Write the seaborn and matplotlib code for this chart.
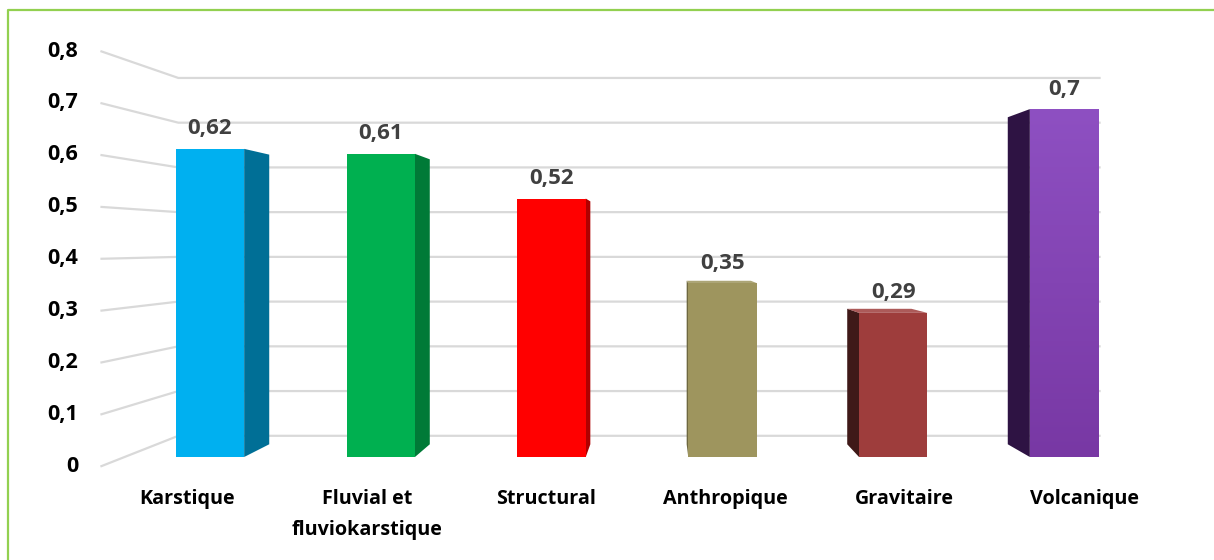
import matplotlib
matplotlib.use("Agg")
import matplotlib.pyplot as plt
import matplotlib.transforms as mtransforms
from matplotlib.patches import Polygon
from matplotlib.lines import Line2D
import numpy as np
import seaborn as sns

# --- data -------------------------------------------------------------
categories = ["Karstique", "Fluvial et\nfluviokarstique", "Structural",
              "Anthropique", "Gravitaire", "Volcanique"]
values = [0.62, 0.61, 0.52, 0.35, 0.29, 0.70]
tick_values = [0.0, 0.1, 0.2, 0.3, 0.4, 0.5, 0.6, 0.7, 0.8]
tick_labels = ["0", "0,1", "0,2", "0,3", "0,4", "0,5", "0,6", "0,7", "0,8"]

# --- styling ----------------------------------------------------------
front_colors = ["#00B0F0", "#00B050", "#FF0000", "#9E955E", "#9E3D3C", "#8A4DBE"]
side_colors = ["#006F96", "#007A37", "#B00000", "#6E6840", "#3F1918", "#2E1343"]
grid_color = "#D9D9D9"
label_color = "#404040"
border_color = "#92D050"

W, H, DPI = 1214, 560, 100

sns.set_theme(style="white")
plt.rcParams["font.family"] = ["Open Sans", "DejaVu Sans"]
plt.rcParams["font.weight"] = "bold"

fig = plt.figure(figsize=(W / DPI, H / DPI), dpi=DPI)
ax = fig.add_axes([0, 0, 1, 1])

# pixel layout of the front plane of the bars
X0_PX, PX_PER_CAT = 210.0, 170.8
Y0_PX, PX_PER_UNIT = 457.0, 497.0


def px_to_data(px, py):
    return (px - X0_PX) / PX_PER_CAT, (Y0_PX - py) / PX_PER_UNIT


# perspective: points are scaled about a vanishing point by a depth factor
VX, VY = px_to_data(662, 245)
F_FRONT_WALL, F_BAR_BACK, F_BACK_WALL = 1.045, 0.94, 0.90
X_LEFT, X_RIGHT = -0.5, len(categories) - 0.5


def project(x, y, f):
    return VX + (x - VX) * f, VY + (y - VY) * f


# bars (front faces)
sns.barplot(x=categories, y=values, hue=categories, palette=front_colors,
            width=0.4, saturation=1, legend=False, linewidth=0, ax=ax,
            zorder=3)

xmin, ymax = px_to_data(0, 0)
xmax, ymin = px_to_data(W, H)
ax.set_xlim(xmin, xmax)
ax.set_ylim(ymin, ymax)
ax.axis("off")

# walls: left wall lines and back wall gridlines
for v in tick_values:
    fx, fy = project(X_LEFT, v, F_FRONT_WALL)
    bx, by = project(X_LEFT, v, F_BACK_WALL)
    rx, ry = project(X_RIGHT, v, F_BACK_WALL)
    ax.plot([fx, bx, rx], [fy, by, ry], color=grid_color, lw=1.6,
            zorder=1, solid_capstyle="butt")

# tick labels at the front edge of the left wall
tick_tr = mtransforms.offset_copy(ax.transData, fig, x=-22, y=0, units="dots")
for v, lab in zip(tick_values, tick_labels):
    fx, fy = project(X_LEFT, v, F_FRONT_WALL)
    ax.text(fx, fy, lab, transform=tick_tr, ha="right", va="center",
            fontsize=15.5, fontweight="bold", color="black")

# side and top faces of each bar
bars = sorted([p for p in ax.patches if p.get_height() > 0], key=lambda p: p.get_x())
for i, (bar, val) in enumerate(zip(bars, values)):
    x0, x1 = bar.get_x(), bar.get_x() + bar.get_width()
    h = bar.get_height()
    xc = (x0 + x1) / 2
    edge = x1 if xc < VX else x0
    side = [project(edge, 0, 1), project(edge, h, 1),
            project(edge, h, F_BAR_BACK), project(edge, 0, F_BAR_BACK)]
    ax.add_patch(Polygon(side, closed=True, facecolor=side_colors[i],
                         edgecolor="none", zorder=2.5))
    if h < VY:
        top = [project(x0, h, 1), project(x1, h, 1),
               project(x1, h, F_BAR_BACK), project(x0, h, F_BAR_BACK)]
        ax.add_patch(Polygon(top, closed=True, facecolor=front_colors[i],
                             edgecolor="none", zorder=2.5, alpha=0.85))

# soft vertical shading on the last bar
last = bars[-1]
grad = np.linspace(0, 1, 256).reshape(-1, 1)
cmap = matplotlib.colors.LinearSegmentedColormap.from_list(
    "volc", ["#7838A4", "#8E50C2"])
im = ax.imshow(grad, cmap=cmap, origin="lower", aspect="auto",
               extent=(last.get_x(), last.get_x() + last.get_width(),
                       0, last.get_height()), zorder=3.1)
im.set_clip_path(last)
ax.set_xlim(xmin, xmax)
ax.set_ylim(ymin, ymax)

# value labels above bars
val_tr = mtransforms.offset_copy(ax.transData, fig, x=0, y=20, units="dots")
for bar, val in zip(bars, values):
    xc = bar.get_x() + bar.get_width() / 2
    ax.text(xc, bar.get_height(), f"{val:g}".replace(".", ","),
            transform=val_tr, ha="center", va="center", fontsize=16,
            fontweight="bold", color=label_color, zorder=5)

# category labels on the front edge of the floor
cat_tr = mtransforms.offset_copy(ax.transData, fig, x=0, y=-21, units="dots")
for bar, cat in zip(bars, categories):
    xc = bar.get_x() + bar.get_width() / 2
    fx, fy = project(xc, 0, 1.05)
    ax.text(fx, fy, cat, transform=cat_tr, ha="center", va="top",
            fontsize=14.2, fontweight="bold", color="black", linespacing=1.75)

# thin green frame along the top and left edges
fig.add_artist(Line2D([8 / W, 8 / W, 1], [0, 1 - 10 / H, 1 - 10 / H],
                      transform=fig.transFigure, color=border_color, lw=1.6))

fig.savefig("out.png", dpi=DPI, facecolor="white")
